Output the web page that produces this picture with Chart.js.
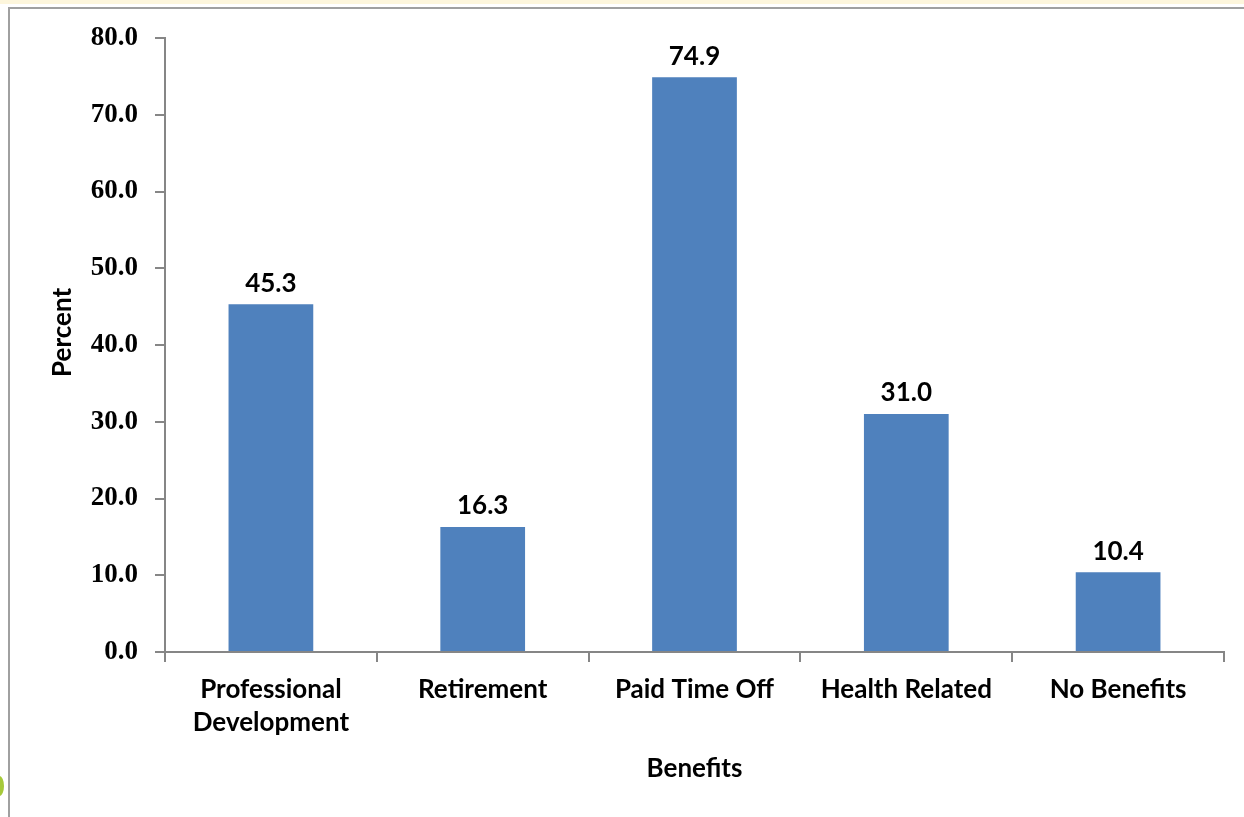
<!DOCTYPE html>
<html>
<head>
<meta charset="utf-8">
<script src="https://cdn.jsdelivr.net/npm/chart.js@4.4.1/dist/chart.umd.min.js"></script>
<style>
  html, body { margin: 0; padding: 0; background: #fff; overflow: hidden; }
  #wrap { position: absolute; left: 0; top: 0; width: 1244px; height: 817px; }
  #band { position: absolute; left: 0; top: 0; width: 1244px; height: 4px; background: #fdf6dc; }
  #frame { position: absolute; left: 8px; top: 7px; width: 1240px; height: 820px;
           border-top: 2px solid #a0a0a0; border-left: 2px solid #a0a0a0; }
  #leaf { position: absolute; left: -5px; top: 776px; width: 9px; height: 20px;
          border-radius: 50%; background: #a6c93a; }
</style>
</head>
<body>
<div id="band"></div>
<div id="frame"></div>
<div id="leaf"></div>
<div id="wrap"><canvas id="benefitsChart" width="1244" height="817"></canvas></div>
<script>
// Benefits chart data
const categories = [["Professional", "Development"], "Retirement", "Paid Time Off", "Health Related", "No Benefits"];
const percentValues = [45.3, 16.3, 74.9, 31.0, 10.4];
const yTicks = [0, 10, 20, 30, 40, 50, 60, 70, 80];

const axisGray = "#868686";
const labelFont = { family: "Lato", size: 26, weight: "bold", lineHeight: 1.27 };

// value labels above bars
const barLabels = {
  id: "barLabels",
  afterDatasetsDraw(chart) {
    const ctx = chart.ctx;
    const meta = chart.getDatasetMeta(0);
    ctx.save();
    ctx.font = "bold 26px Lato";
    ctx.fillStyle = "#000";
    ctx.textAlign = "center";
    ctx.textBaseline = "middle";
    meta.data.forEach((bar, i) => {
      ctx.fillText(percentValues[i].toFixed(1), bar.x, bar.y - 21);
    });
    ctx.restore();
  },
};

const benefitsEl = document.getElementById("benefitsChart");
if (benefitsEl) {
  new Chart(benefitsEl.getContext("2d"), {
    type: "bar",
    data: {
      labels: categories,
      datasets: [
        {
          data: percentValues,
          backgroundColor: "#4f81bd",
          borderWidth: 0,
          categoryPercentage: 0.4,
          barPercentage: 1,
        },
      ],
    },
    options: {
      responsive: false,
      animation: false,
      layout: { padding: { top: 38, right: 20, left: 0, bottom: 0 } },
      plugins: {
        legend: { display: false },
        tooltip: { enabled: false },
      },
      scales: {
        y: {
          min: 0,
          max: 80,
          afterBuildTicks: (scale) => {
            scale.ticks = yTicks.map((v) => ({ value: v }));
          },
          afterFit: (scale) => {
            scale.width = 165;
          },
          ticks: {
            color: "#000",
            padding: 17,
            font: { family: "Liberation Serif", size: 27, weight: "bold" },
            callback: (v) => Number(v).toFixed(1),
          },
          grid: { drawOnChartArea: false, tickLength: 10, color: axisGray, lineWidth: 2 },
          border: { color: axisGray, width: 2 },
          title: {
            display: true,
            // leading spaces nudge the rotated title up a little, like the original
            text: "    Percent",
            color: "#000",
            font: { family: "Lato", size: 26, weight: "bold" },
            padding: { top: 47 },
          },
        },
        x: {
          afterFit: (scale) => {
            scale.height = 165;
          },
          ticks: { color: "#000", padding: 11, font: labelFont, maxRotation: 0 },
          grid: { drawOnChartArea: false, tickLength: 10, color: axisGray, lineWidth: 2, offset: true },
          border: { color: axisGray, width: 2 },
          title: {
            display: true,
            text: "Benefits",
            color: "#000",
            font: { family: "Lato", size: 26, weight: "bold" },
            padding: { bottom: 33 },
          },
        },
      },
    },
    plugins: [barLabels],
  });
}
</script>
</body>
</html>
